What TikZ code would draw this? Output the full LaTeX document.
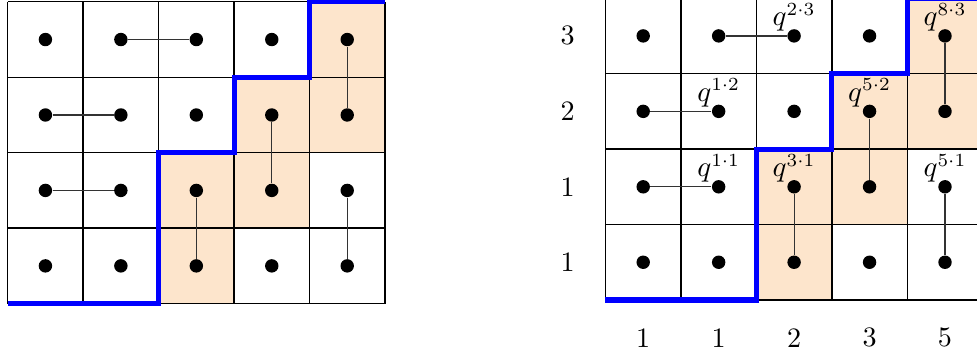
\documentclass[tikz,border=0pt]{standalone}
\usetikzlibrary{calc}
\definecolor{peach}{RGB}{253,229,204}
\tikzset{
  gridline/.style={line width=0.5pt, draw=black},
  dot/.style={circle, fill=black, inner sep=0pt, minimum size=0.178cm},
  link/.style={line width=0.45pt, draw=black!80},
  bluepath/.style={line width=1.9pt, draw=blue, line join=miter},
  qlab/.style={anchor=south, inner sep=0pt, yshift=1.5pt, font=\fontsize{10.6}{12}\selectfont},
  numlab/.style={inner sep=0pt, font=\fontsize{10.6}{12}\selectfont}
}
\begin{document}
\begin{tikzpicture}
\clip (0,0) rectangle (12.949,4.705);
\foreach \ox/\oy/\p in {0.102/0.681/L, 8.025/0.729/R} {
  \begin{scope}[shift={(\ox,\oy)}]
    \fill[peach] (2,0) rectangle (3,2) (3,1) rectangle (4,3) (4,2) rectangle (5,4);
    \draw[gridline] (0,0) grid (5,4);
    \foreach \i in {0,...,4} {
      \foreach \j in {0,...,3} {
        \node[dot] (\p-\i-\j) at (\i+0.5,\j+0.5) {};
      }
    }
    \draw[link] (\p-1-3) -- (\p-2-3);
    \draw[link] (\p-4-3) -- (\p-4-2);
    \draw[link] (\p-0-2) -- (\p-1-2);
    \draw[link] (\p-3-2) -- (\p-3-1);
    \draw[link] (\p-0-1) -- (\p-1-1);
    \draw[link] (\p-2-1) -- (\p-2-0);
    \draw[link] (\p-4-1) -- (\p-4-0);
    \draw[bluepath] (0,0) -| (2,2) -| (3,3) -| (4,4) -- (5,4);
  \end{scope}
}
% q labels
\node[qlab] (q23) at (R-2-3.center) {$q^{2\cdot 3}$};
\node[qlab] (q83) at (R-4-3.center) {$q^{8\cdot 3}$};
\node[qlab] (q12) at (R-1-2.center) {$q^{1\cdot 2}$};
\node[qlab] (q52) at (R-3-2.center) {$q^{5\cdot 2}$};
\node[qlab] (q11) at (R-1-1.center) {$q^{1\cdot 1}$};
\node[qlab] (q31) at (R-2-1.center) {$q^{3\cdot 1}$};
\node[qlab] (q51) at (R-4-1.center) {$q^{5\cdot 1}$};
% row labels
\node[numlab] (r3) at ($(R-0-3)-(1,0)$) {3};
\node[numlab] (r2) at ($(R-0-2)-(1,0)$) {2};
\node[numlab] (r1) at ($(R-0-1)-(1,0)$) {1};
\node[numlab] (r0) at ($(R-0-0)-(1,0)$) {1};
% column labels
\node[numlab] (c0) at ($(R-0-0)-(0,1)$) {1};
\node[numlab] (c1) at ($(R-1-0)-(0,1)$) {1};
\node[numlab] (c2) at ($(R-2-0)-(0,1)$) {2};
\node[numlab] (c3) at ($(R-3-0)-(0,1)$) {3};
\node[numlab] (c4) at ($(R-4-0)-(0,1)$) {5};
\end{tikzpicture}
\end{document}
